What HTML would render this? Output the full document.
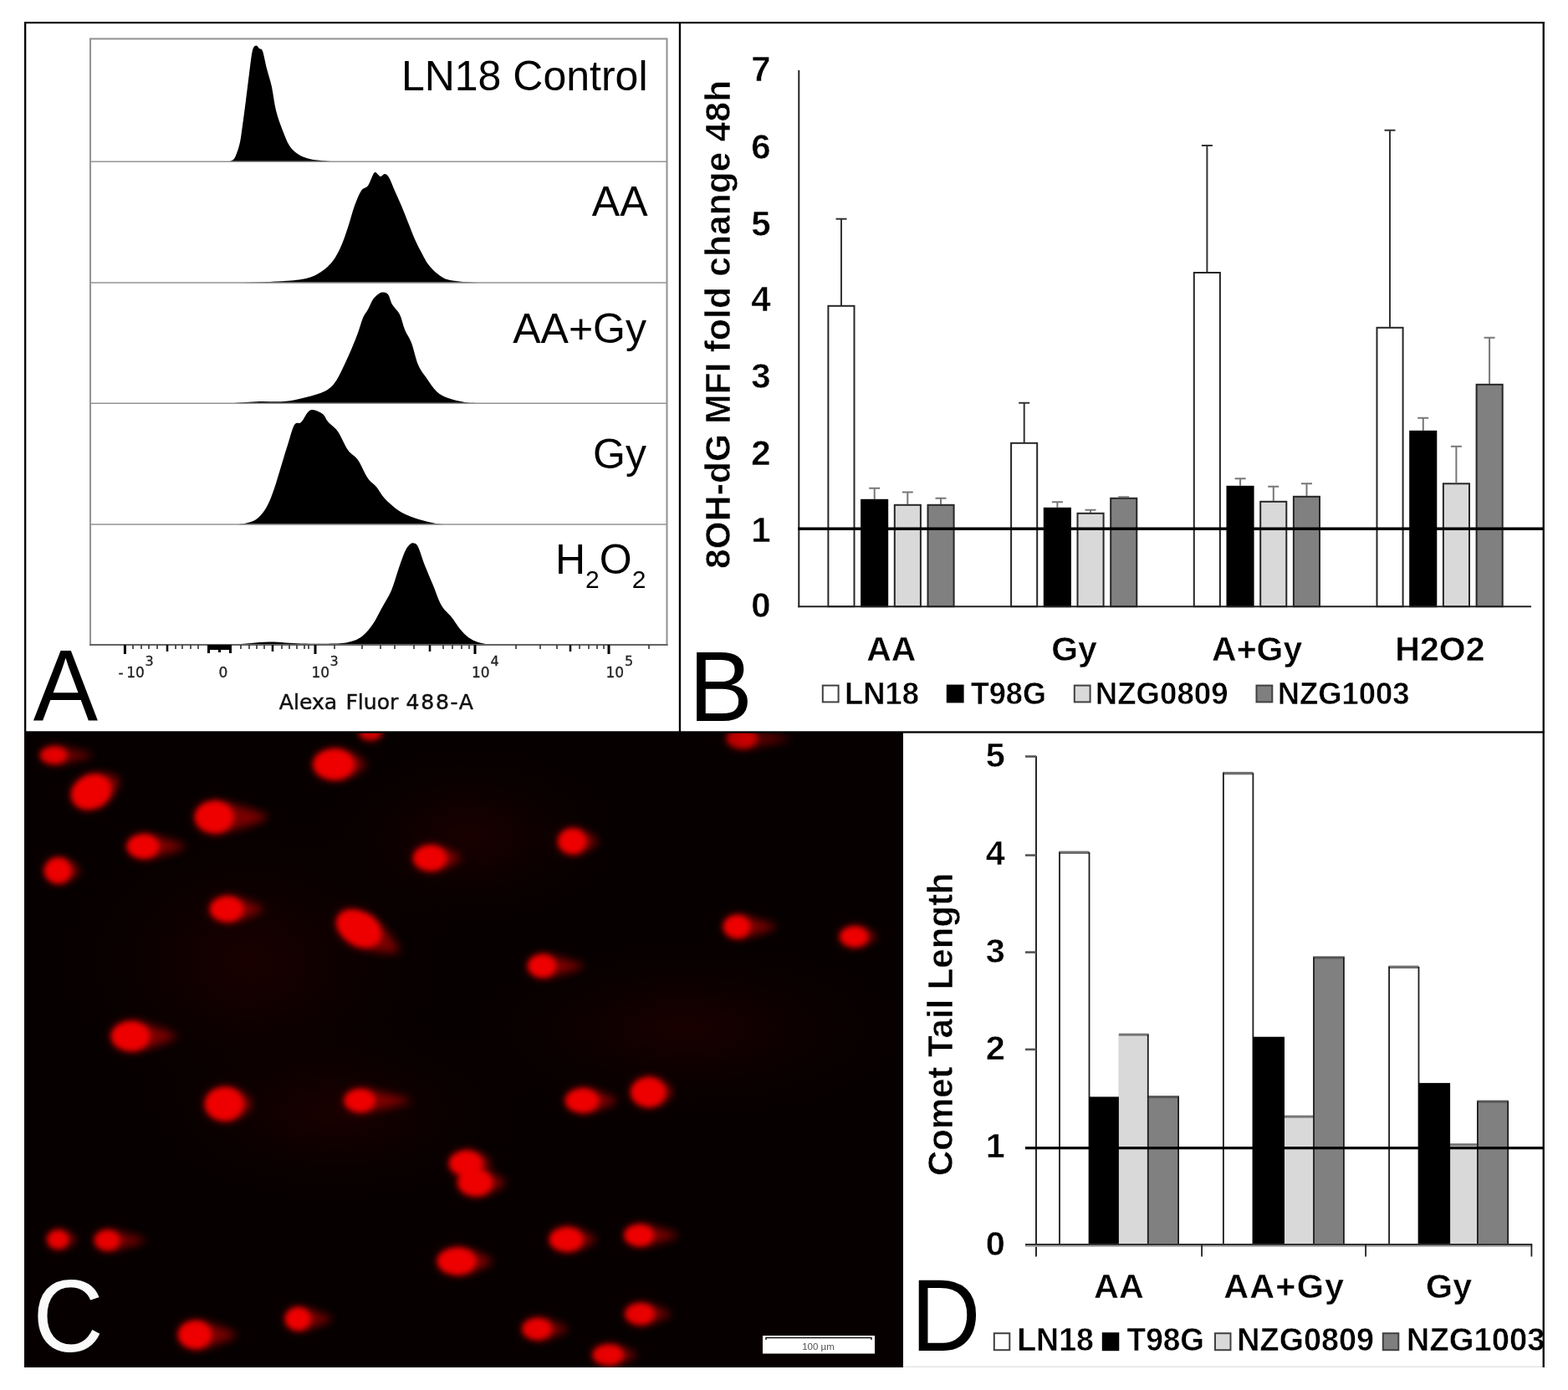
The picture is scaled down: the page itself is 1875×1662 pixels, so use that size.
<!DOCTYPE html>
<html lang="en"><head><meta charset="utf-8"><title>Figure</title>
<style>html,body{margin:0;padding:0;background:#fff;}body{width:1875px;height:1662px;overflow:hidden;}svg{display:block;}text{white-space:pre;}</style>
</head><body>
<svg width="1875" height="1662" viewBox="0 0 1875 1662">
<rect width="1875" height="1662" fill="#fff"/>
<g id="panelA">
<path d="M272.0,193.6C272.0,193.6 271.0,193.6 272.0,193.6C273.0,193.3 276.3,192.9 278.0,191.6C279.7,190.3 280.5,189.6 282.0,186.0C283.5,182.4 285.7,176.0 287.0,170.0C288.3,164.0 288.8,158.3 290.0,150.0C291.2,141.7 292.7,130.3 294.0,120.0C295.3,109.7 296.7,98.0 298.0,88.0C299.3,78.0 300.6,65.6 302.0,60.0C303.4,54.4 305.3,54.7 306.6,54.4C307.9,54.1 308.8,56.9 310.0,58.0C311.2,59.1 312.5,57.0 314.0,61.0C315.5,65.0 317.2,74.8 319.0,82.0C320.8,89.2 323.2,95.7 325.0,104.0C326.8,112.3 327.8,123.3 330.0,132.0C332.2,140.7 335.3,149.0 338.0,156.0C340.7,163.0 343.0,169.3 346.0,174.0C349.0,178.7 352.0,181.3 356.0,184.0C360.0,186.7 364.3,188.6 370.0,190.0C375.7,191.4 383.3,191.8 390.0,192.4C396.7,193.0 406.7,193.4 410.0,193.6C413.3,193.6 410.0,193.6 410.0,193.6Z" fill="#000"/>
<path d="M296.0,338.3C296.0,338.2 288.7,338.3 296.0,338.0C303.3,337.6 328.3,336.8 340.0,336.0C351.7,335.2 358.7,334.8 366.0,333.0C373.3,331.2 378.7,328.5 384.0,325.0C389.3,321.5 394.0,317.2 398.0,312.0C402.0,306.8 405.0,300.7 408.0,294.0C411.0,287.3 413.3,280.0 416.0,272.0C418.7,264.0 421.3,253.3 424.0,246.0C426.7,238.7 429.3,232.0 432.0,228.0C434.7,224.0 437.7,225.2 440.0,222.0C442.3,218.8 444.5,211.7 446.0,209.0C447.5,206.3 447.5,205.7 449.0,206.0C450.5,206.3 453.2,210.7 455.0,211.0C456.8,211.3 458.3,207.8 460.0,208.0C461.7,208.2 463.0,208.7 465.0,212.0C467.0,215.3 469.5,222.3 472.0,228.0C474.5,233.7 477.3,239.7 480.0,246.0C482.7,252.3 485.3,259.3 488.0,266.0C490.7,272.7 493.3,280.0 496.0,286.0C498.7,292.0 501.3,297.0 504.0,302.0C506.7,307.0 508.7,311.7 512.0,316.0C515.3,320.3 519.7,324.8 524.0,328.0C528.3,331.2 530.7,333.3 538.0,335.0C545.3,336.7 563.0,337.4 568.0,338.0C573.0,338.3 568.0,338.2 568.0,338.3Z" fill="#000"/>
<path d="M280.0,482.6C280.0,482.5 275.0,482.4 280.0,482.0C285.0,481.6 300.0,480.3 310.0,480.0C320.0,479.7 330.7,480.8 340.0,480.0C349.3,479.2 358.0,477.0 366.0,475.0C374.0,473.0 382.3,470.8 388.0,468.0C393.7,465.2 396.3,462.7 400.0,458.0C403.7,453.3 406.7,446.7 410.0,440.0C413.3,433.3 417.0,425.0 420.0,418.0C423.0,411.0 425.7,404.3 428.0,398.0C430.3,391.7 432.0,384.7 434.0,380.0C436.0,375.3 438.0,373.7 440.0,370.0C442.0,366.3 444.0,361.0 446.0,358.0C448.0,355.0 450.2,353.4 452.0,352.0C453.8,350.6 455.0,349.6 457.0,349.6C459.0,349.6 462.0,349.6 464.0,352.0C466.0,354.4 466.7,360.0 469.0,364.0C471.3,368.0 475.5,371.0 478.0,376.0C480.5,381.0 481.7,388.3 484.0,394.0C486.3,399.7 489.3,403.0 492.0,410.0C494.7,417.0 497.0,429.0 500.0,436.0C503.0,443.0 506.3,446.7 510.0,452.0C513.7,457.3 517.7,464.0 522.0,468.0C526.3,472.0 530.3,473.8 536.0,476.0C541.7,478.2 550.3,480.0 556.0,481.0C561.7,482.0 567.7,481.7 570.0,482.0C572.3,482.3 570.0,482.5 570.0,482.6Z" fill="#000"/>
<path d="M286.0,627.3C286.0,627.2 283.7,627.3 286.0,627.0C288.3,626.5 296.0,625.5 300.0,624.0C304.0,622.5 306.7,621.3 310.0,618.0C313.3,614.7 317.0,609.7 320.0,604.0C323.0,598.3 325.3,591.7 328.0,584.0C330.7,576.3 333.3,566.7 336.0,558.0C338.7,549.3 341.3,540.3 344.0,532.0C346.7,523.7 349.3,512.5 352.0,508.0C354.7,503.5 357.3,507.5 360.0,505.0C362.7,502.5 365.7,495.5 368.0,493.0C370.3,490.5 371.0,489.7 374.0,490.0C377.0,490.3 383.0,492.7 386.0,495.0C389.0,497.3 389.0,500.5 392.0,504.0C395.0,507.5 400.0,510.3 404.0,516.0C408.0,521.7 412.0,532.3 416.0,538.0C420.0,543.7 424.0,544.3 428.0,550.0C432.0,555.7 436.3,566.7 440.0,572.0C443.7,577.3 446.7,578.0 450.0,582.0C453.3,586.0 455.7,591.3 460.0,596.0C464.3,600.7 470.7,606.3 476.0,610.0C481.3,613.7 486.0,615.7 492.0,618.0C498.0,620.3 506.0,622.5 512.0,624.0C518.0,625.5 525.3,626.5 528.0,627.0C530.7,627.3 528.0,627.2 528.0,627.3Z" fill="#000"/>
<path d="M280.0,771.3C280.0,771.2 276.7,771.3 280.0,771.0C283.3,770.6 292.7,769.6 300.0,769.0C307.3,768.4 314.0,767.5 324.0,767.6C334.0,767.7 347.3,769.3 360.0,769.6C372.7,769.9 390.0,770.0 400.0,769.6C410.0,769.2 414.3,768.6 420.0,767.0C425.7,765.4 429.7,763.5 434.0,760.0C438.3,756.5 442.3,751.3 446.0,746.0C449.7,740.7 452.3,734.7 456.0,728.0C459.7,721.3 464.7,713.7 468.0,706.0C471.3,698.3 473.3,689.7 476.0,682.0C478.7,674.3 481.7,665.2 484.0,660.0C486.3,654.8 488.2,652.7 490.0,651.0C491.8,649.3 493.3,649.1 495.0,649.6C496.7,650.1 497.8,649.6 500.0,654.0C502.2,658.4 505.0,668.3 508.0,676.0C511.0,683.7 514.7,692.0 518.0,700.0C521.3,708.0 524.3,717.7 528.0,724.0C531.7,730.3 536.3,733.3 540.0,738.0C543.7,742.7 546.7,748.0 550.0,752.0C553.3,756.0 556.3,759.3 560.0,762.0C563.7,764.7 567.3,766.5 572.0,768.0C576.7,769.5 585.3,770.5 588.0,771.0C590.7,771.3 588.0,771.2 588.0,771.3Z" fill="#000"/>
<rect x="108.0" y="46.4" width="689.5" height="724.6" fill="none" stroke="#949494" stroke-width="2.1"/>
<line x1="108.0" y1="193.3" x2="797.5" y2="193.3" stroke="#949494" stroke-width="1.6"/>
<line x1="108.0" y1="338.0" x2="797.5" y2="338.0" stroke="#949494" stroke-width="1.6"/>
<line x1="108.0" y1="482.3" x2="797.5" y2="482.3" stroke="#949494" stroke-width="1.6"/>
<line x1="108.0" y1="627.0" x2="797.5" y2="627.0" stroke="#949494" stroke-width="1.6"/>
<line x1="107.0" y1="771.0" x2="798.5" y2="771.0" stroke="#555" stroke-width="1.6"/>
<rect x="147.9" y="771.0" width="3" height="11" fill="#000"/>
<rect x="375.5" y="771.0" width="3" height="11" fill="#000"/>
<rect x="566.5" y="771.0" width="3" height="11" fill="#000"/>
<rect x="726.5" y="771.0" width="3" height="11" fill="#000"/>
<rect x="198.7" y="771.0" width="2.6" height="8" fill="#111"/>
<rect x="324.7" y="771.0" width="2.6" height="8" fill="#111"/>
<rect x="512.7" y="771.0" width="2.6" height="8" fill="#111"/>
<rect x="680.7" y="771.0" width="2.6" height="8" fill="#111"/>
<rect x="158.2" y="771.0" width="1.6" height="5" fill="#333"/>
<rect x="168.2" y="771.0" width="1.6" height="5" fill="#333"/>
<rect x="177.2" y="771.0" width="1.6" height="5" fill="#333"/>
<rect x="187.2" y="771.0" width="1.6" height="5" fill="#333"/>
<rect x="209.2" y="771.0" width="1.6" height="5" fill="#333"/>
<rect x="217.2" y="771.0" width="1.6" height="5" fill="#333"/>
<rect x="227.2" y="771.0" width="1.6" height="5" fill="#333"/>
<rect x="236.2" y="771.0" width="1.6" height="5" fill="#333"/>
<rect x="287.2" y="771.0" width="1.6" height="5" fill="#333"/>
<rect x="297.2" y="771.0" width="1.6" height="5" fill="#333"/>
<rect x="306.2" y="771.0" width="1.6" height="5" fill="#333"/>
<rect x="315.2" y="771.0" width="1.6" height="5" fill="#333"/>
<rect x="336.2" y="771.0" width="1.6" height="5" fill="#333"/>
<rect x="345.2" y="771.0" width="1.6" height="5" fill="#333"/>
<rect x="354.2" y="771.0" width="1.6" height="5" fill="#333"/>
<rect x="363.2" y="771.0" width="1.6" height="5" fill="#333"/>
<rect x="368.2" y="771.0" width="1.6" height="5" fill="#333"/>
<rect x="471.2" y="771.0" width="1.6" height="5" fill="#333"/>
<rect x="494.2" y="771.0" width="1.6" height="5" fill="#333"/>
<rect x="529.2" y="771.0" width="1.6" height="5" fill="#333"/>
<rect x="540.2" y="771.0" width="1.6" height="5" fill="#333"/>
<rect x="551.2" y="771.0" width="1.6" height="5" fill="#333"/>
<rect x="560.2" y="771.0" width="1.6" height="5" fill="#333"/>
<rect x="616.2" y="771.0" width="1.6" height="5" fill="#333"/>
<rect x="645.2" y="771.0" width="1.6" height="5" fill="#333"/>
<rect x="665.2" y="771.0" width="1.6" height="5" fill="#333"/>
<rect x="692.2" y="771.0" width="1.6" height="5" fill="#333"/>
<rect x="703.2" y="771.0" width="1.6" height="5" fill="#333"/>
<rect x="713.2" y="771.0" width="1.6" height="5" fill="#333"/>
<rect x="721.2" y="771.0" width="1.6" height="5" fill="#333"/>
<rect x="775.2" y="771.0" width="1.6" height="5" fill="#333"/>
<rect x="399.2" y="771.0" width="1.6" height="5" fill="#333"/>
<rect x="432.2" y="771.0" width="1.6" height="5" fill="#333"/>
<rect x="454.2" y="771.0" width="1.6" height="5" fill="#333"/>
<rect x="248" y="771.0" width="29" height="6" fill="#000"/>
<rect x="248" y="771.0" width="3" height="10" fill="#000"/>
<rect x="274" y="771.0" width="3" height="10" fill="#000"/>
<rect x="261" y="771.0" width="3" height="9" fill="#000"/>
<text x="141.5" y="809.5" font-family="'DejaVu Sans', 'Liberation Sans', sans-serif" font-size="17px" fill="#222" stroke="#222" stroke-width="0.3">-<tspan dx="3.6">10</tspan></text>
<text x="173.5" y="795.5" font-family="'DejaVu Sans', 'Liberation Sans', sans-serif" font-size="16px" fill="#222" stroke="#222" stroke-width="0.3">3</text>
<text x="261.5" y="809.5" font-family="'DejaVu Sans', 'Liberation Sans', sans-serif" font-size="17px" fill="#222" stroke="#222" stroke-width="0.3">0</text>
<text x="372.5" y="809.5" font-family="'DejaVu Sans', 'Liberation Sans', sans-serif" font-size="17px" fill="#222" stroke="#222" stroke-width="0.3">10</text>
<text x="394.5" y="795.5" font-family="'DejaVu Sans', 'Liberation Sans', sans-serif" font-size="16px" fill="#222" stroke="#222" stroke-width="0.3">3</text>
<text x="564" y="809.5" font-family="'DejaVu Sans', 'Liberation Sans', sans-serif" font-size="17px" fill="#222" stroke="#222" stroke-width="0.3">10</text>
<text x="586.5" y="795.5" font-family="'DejaVu Sans', 'Liberation Sans', sans-serif" font-size="16px" fill="#222" stroke="#222" stroke-width="0.3">4</text>
<text x="724.5" y="809.5" font-family="'DejaVu Sans', 'Liberation Sans', sans-serif" font-size="17px" fill="#222" stroke="#222" stroke-width="0.3">10</text>
<text x="747" y="795.5" font-family="'DejaVu Sans', 'Liberation Sans', sans-serif" font-size="16px" fill="#222" stroke="#222" stroke-width="0.3">5</text>
<text y="848" font-family="'DejaVu Sans', 'Liberation Sans', sans-serif" font-size="25.1px" fill="#111" stroke="#111" stroke-width="0.45"><tspan x="333.8">Alexa </tspan><tspan x="413.4">Fluor </tspan><tspan x="485.5" textLength="80.5" lengthAdjust="spacing">488-A</tspan></text>
<text x="774.5" y="108.4" text-anchor="end" font-family="'Liberation Sans', Arial, Helvetica, sans-serif" font-size="50px" fill="#000">LN18 Control</text>
<text x="774.5" y="258.4" text-anchor="end" font-family="'Liberation Sans', Arial, Helvetica, sans-serif" font-size="50px" fill="#000">AA</text>
<text x="773" y="410.4" text-anchor="end" font-family="'Liberation Sans', Arial, Helvetica, sans-serif" font-size="50px" fill="#000">AA+Gy</text>
<text x="773" y="560" text-anchor="end" font-family="'Liberation Sans', Arial, Helvetica, sans-serif" font-size="50px" fill="#000">Gy</text>
<text x="664" y="686.4" font-family="'Liberation Sans', Arial, Helvetica, sans-serif" font-size="50px" fill="#000">H<tspan font-size="30px" dy="17">2</tspan><tspan dy="-17">O</tspan><tspan font-size="30px" dy="17">2</tspan></text>
<text transform="translate(39.8,861) scale(1,1.035)" font-family="'Liberation Sans', Arial, Helvetica, sans-serif" font-size="116px" fill="#000">A</text>
</g>
<g id="panelB">
<rect x="990.4" y="365.8" width="31.1" height="359.4" fill="#ffffff" stroke="#262626" stroke-width="2"/>
<path d="M1006.0,365.0V261.8M999.5,261.8H1012.5" stroke="#333" stroke-width="2" fill="none"/>
<rect x="1030.1" y="597.8" width="31.1" height="127.4" fill="#000000" stroke="#000" stroke-width="2"/>
<path d="M1045.7,597.0V583.8M1039.2,583.8H1052.2" stroke="#777" stroke-width="2" fill="none"/>
<rect x="1069.8" y="603.8" width="31.1" height="121.4" fill="#d9d9d9" stroke="#262626" stroke-width="2"/>
<path d="M1085.3,603.0V588.4M1078.8,588.4H1091.8" stroke="#777" stroke-width="2" fill="none"/>
<rect x="1109.5" y="603.8" width="31.1" height="121.4" fill="#808080" stroke="#262626" stroke-width="2"/>
<path d="M1125.0,603.0V595.8M1118.5,595.8H1131.5" stroke="#777" stroke-width="2" fill="none"/>
<rect x="1209.1" y="529.8" width="31.1" height="195.4" fill="#ffffff" stroke="#262626" stroke-width="2"/>
<path d="M1224.7,529.0V481.8M1218.2,481.8H1231.2" stroke="#333" stroke-width="2" fill="none"/>
<rect x="1248.8" y="607.8" width="31.1" height="117.4" fill="#000000" stroke="#000" stroke-width="2"/>
<path d="M1264.4,607.0V600.2M1257.9,600.2H1270.9" stroke="#777" stroke-width="2" fill="none"/>
<rect x="1288.5" y="613.8" width="31.1" height="111.4" fill="#d9d9d9" stroke="#262626" stroke-width="2"/>
<path d="M1304.0,613.0V609.8M1297.5,609.8H1310.5" stroke="#777" stroke-width="2" fill="none"/>
<rect x="1328.2" y="595.8" width="31.1" height="129.4" fill="#808080" stroke="#262626" stroke-width="2"/>
<path d="M1343.8,595.0V594.2M1337.2,594.2H1350.2" stroke="#777" stroke-width="2" fill="none"/>
<rect x="1427.8" y="326.0" width="31.1" height="399.2" fill="#ffffff" stroke="#262626" stroke-width="2"/>
<path d="M1443.4,325.2V174.0M1436.9,174.0H1449.9" stroke="#333" stroke-width="2" fill="none"/>
<rect x="1467.5" y="581.8" width="31.1" height="143.4" fill="#000000" stroke="#000" stroke-width="2"/>
<path d="M1483.1,581.0V572.2M1476.6,572.2H1489.6" stroke="#777" stroke-width="2" fill="none"/>
<rect x="1507.2" y="599.8" width="31.1" height="125.4" fill="#d9d9d9" stroke="#262626" stroke-width="2"/>
<path d="M1522.8,599.0V581.8M1516.2,581.8H1529.2" stroke="#777" stroke-width="2" fill="none"/>
<rect x="1546.9" y="593.8" width="31.1" height="131.4" fill="#808080" stroke="#262626" stroke-width="2"/>
<path d="M1562.5,593.0V578.3M1556.0,578.3H1569.0" stroke="#777" stroke-width="2" fill="none"/>
<rect x="1646.5" y="391.8" width="31.1" height="333.4" fill="#ffffff" stroke="#262626" stroke-width="2"/>
<path d="M1662.0,391.0V155.8M1655.5,155.8H1668.5" stroke="#333" stroke-width="2" fill="none"/>
<rect x="1686.2" y="515.8" width="31.1" height="209.4" fill="#000000" stroke="#000" stroke-width="2"/>
<path d="M1701.8,515.0V499.8M1695.2,499.8H1708.2" stroke="#777" stroke-width="2" fill="none"/>
<rect x="1725.9" y="578.3" width="31.1" height="146.9" fill="#d9d9d9" stroke="#262626" stroke-width="2"/>
<path d="M1741.4,577.5V533.8M1734.9,533.8H1747.9" stroke="#777" stroke-width="2" fill="none"/>
<rect x="1765.6" y="459.8" width="31.1" height="265.4" fill="#808080" stroke="#262626" stroke-width="2"/>
<path d="M1781.1,459.0V403.8M1774.6,403.8H1787.6" stroke="#777" stroke-width="2" fill="none"/>
<line x1="955.3" y1="84" x2="955.3" y2="726.2" stroke="#222" stroke-width="2"/>
<line x1="954.3" y1="725.2" x2="1831" y2="725.2" stroke="#222" stroke-width="2"/>
<line x1="954.3" y1="632.3" x2="1845" y2="632.3" stroke="#000" stroke-width="3.4"/>
<text x="910" y="738.0" text-anchor="middle" font-family="'Liberation Sans', Arial, Helvetica, sans-serif" font-weight="bold" stroke="#fff" stroke-width="0.5" font-size="42px" fill="#000">0</text>
<text x="910" y="647.5" text-anchor="middle" font-family="'Liberation Sans', Arial, Helvetica, sans-serif" font-weight="bold" stroke="#fff" stroke-width="0.5" font-size="42px" fill="#000">1</text>
<text x="910" y="555.5" text-anchor="middle" font-family="'Liberation Sans', Arial, Helvetica, sans-serif" font-weight="bold" stroke="#fff" stroke-width="0.5" font-size="42px" fill="#000">2</text>
<text x="910" y="464.4" text-anchor="middle" font-family="'Liberation Sans', Arial, Helvetica, sans-serif" font-weight="bold" stroke="#fff" stroke-width="0.5" font-size="42px" fill="#000">3</text>
<text x="910" y="372.0" text-anchor="middle" font-family="'Liberation Sans', Arial, Helvetica, sans-serif" font-weight="bold" stroke="#fff" stroke-width="0.5" font-size="42px" fill="#000">4</text>
<text x="910" y="282.4" text-anchor="middle" font-family="'Liberation Sans', Arial, Helvetica, sans-serif" font-weight="bold" stroke="#fff" stroke-width="0.5" font-size="42px" fill="#000">5</text>
<text x="910" y="189.5" text-anchor="middle" font-family="'Liberation Sans', Arial, Helvetica, sans-serif" font-weight="bold" stroke="#fff" stroke-width="0.5" font-size="42px" fill="#000">6</text>
<text x="910" y="97.1" text-anchor="middle" font-family="'Liberation Sans', Arial, Helvetica, sans-serif" font-weight="bold" stroke="#fff" stroke-width="0.5" font-size="42px" fill="#000">7</text>
<text transform="translate(873,680) rotate(-90)" font-family="'Liberation Sans', Arial, Helvetica, sans-serif" font-weight="bold" stroke="#fff" stroke-width="0.5" font-size="42.3px" fill="#000" textLength="584" lengthAdjust="spacing">8OH-dG MFI fold change 48h</text>
<text x="1065.8" y="789.6" text-anchor="middle" font-family="'Liberation Sans', Arial, Helvetica, sans-serif" font-weight="bold" stroke="#fff" stroke-width="0.5" font-size="41px" fill="#000">AA</text>
<text x="1284.5" y="789.6" text-anchor="middle" font-family="'Liberation Sans', Arial, Helvetica, sans-serif" font-weight="bold" stroke="#fff" stroke-width="0.5" font-size="41px" fill="#000">Gy</text>
<text x="1503.2" y="789.6" text-anchor="middle" font-family="'Liberation Sans', Arial, Helvetica, sans-serif" font-weight="bold" stroke="#fff" stroke-width="0.5" font-size="41px" fill="#000">A+Gy</text>
<text x="1721.9" y="789.6" text-anchor="middle" font-family="'Liberation Sans', Arial, Helvetica, sans-serif" font-weight="bold" stroke="#fff" stroke-width="0.5" font-size="41px" fill="#000">H2O2</text>
<rect x="983.8" y="819.6" width="18.8" height="19.8" fill="#fff" stroke="#404040" stroke-width="2"/>
<text x="1010.0" y="841.5" font-family="'Liberation Sans', Arial, Helvetica, sans-serif" font-weight="bold" stroke="#fff" stroke-width="0.5" font-size="37.5px" fill="#000" textLength="89.0" lengthAdjust="spacingAndGlyphs">LN18</text>
<rect x="1132.8" y="819.6" width="18.8" height="19.8" fill="#000" stroke="#000" stroke-width="2"/>
<text x="1160.7" y="841.5" font-family="'Liberation Sans', Arial, Helvetica, sans-serif" font-weight="bold" stroke="#fff" stroke-width="0.5" font-size="37.5px" fill="#000" textLength="90.3" lengthAdjust="spacingAndGlyphs">T98G</text>
<rect x="1284.8" y="819.6" width="18.8" height="19.8" fill="#d9d9d9" stroke="#404040" stroke-width="2"/>
<text x="1309.8" y="841.5" font-family="'Liberation Sans', Arial, Helvetica, sans-serif" font-weight="bold" stroke="#fff" stroke-width="0.5" font-size="37.5px" fill="#000" textLength="158.8" lengthAdjust="spacingAndGlyphs">NZG0809</text>
<rect x="1502.5" y="819.6" width="18.8" height="19.8" fill="#7f7f7f" stroke="#404040" stroke-width="2"/>
<text x="1527.7" y="841.5" font-family="'Liberation Sans', Arial, Helvetica, sans-serif" font-weight="bold" stroke="#fff" stroke-width="0.5" font-size="37.5px" fill="#000" textLength="157.8" lengthAdjust="spacingAndGlyphs">NZG1003</text>
<text transform="translate(823.8,862) scale(0.985,1.025)" font-family="'Liberation Sans', Arial, Helvetica, sans-serif" font-size="116px" fill="#000">B</text>
</g>
<g id="panelD">
<rect x="1267.0" y="1019.0" width="35.2" height="469.0" fill="#fff"/>
<rect x="1337.4" y="1237.0" width="35.4" height="251.0" fill="#d9d9d9"/>
<rect x="1372.8" y="1311.5" width="36.3" height="176.5" fill="#808080"/>
<rect x="1266.1" y="1017.6" width="36.4" height="3.4" fill="#6e6e6e"/>
<rect x="1337.9" y="1235.6" width="35.8" height="3.0" fill="#767676"/>
<rect x="1371.9" y="1310.1" width="38.1" height="3.0" fill="#555"/>
<rect x="1266.1" y="1019.0" width="1.8" height="469.0" fill="#1c1c1c"/>
<rect x="1301.6" y="1019.0" width="1.8" height="469.0" fill="#1c1c1c"/>
<rect x="1371.9" y="1237.0" width="1.8" height="251.0" fill="#1c1c1c"/>
<rect x="1408.2" y="1311.5" width="1.8" height="176.5" fill="#1c1c1c"/>
<rect x="1302.2" y="1311.4" width="35.7" height="176.6" fill="#000"/>
<rect x="1462.9" y="924.3" width="35.2" height="563.7" fill="#fff"/>
<rect x="1535.5" y="1335.0" width="35.5" height="153.0" fill="#d9d9d9"/>
<rect x="1571.0" y="1144.8" width="35.9" height="343.2" fill="#808080"/>
<rect x="1462.0" y="922.9" width="36.4" height="3.4" fill="#6e6e6e"/>
<rect x="1536.0" y="1333.6" width="35.9" height="3.0" fill="#767676"/>
<rect x="1570.1" y="1143.4" width="37.7" height="3.0" fill="#555"/>
<rect x="1462.0" y="924.3" width="1.8" height="563.7" fill="#1c1c1c"/>
<rect x="1497.5" y="924.3" width="1.8" height="563.7" fill="#1c1c1c"/>
<rect x="1570.1" y="1144.8" width="1.8" height="343.2" fill="#1c1c1c"/>
<rect x="1606.0" y="1144.8" width="1.8" height="343.2" fill="#1c1c1c"/>
<rect x="1498.1" y="1239.7" width="37.9" height="248.3" fill="#000"/>
<rect x="1661.1" y="1156.0" width="35.1" height="332.0" fill="#fff"/>
<rect x="1733.6" y="1368.6" width="33.3" height="119.4" fill="#d9d9d9"/>
<rect x="1766.9" y="1317.0" width="36.3" height="171.0" fill="#808080"/>
<rect x="1660.2" y="1154.6" width="36.3" height="3.4" fill="#6e6e6e"/>
<rect x="1734.1" y="1367.2" width="33.7" height="3.0" fill="#767676"/>
<rect x="1766.0" y="1315.6" width="38.1" height="3.0" fill="#555"/>
<rect x="1660.2" y="1156.0" width="1.8" height="332.0" fill="#1c1c1c"/>
<rect x="1695.6" y="1156.0" width="1.8" height="332.0" fill="#1c1c1c"/>
<rect x="1766.0" y="1317.0" width="1.8" height="171.0" fill="#1c1c1c"/>
<rect x="1802.3" y="1317.0" width="1.8" height="171.0" fill="#1c1c1c"/>
<rect x="1696.2" y="1294.9" width="37.9" height="193.1" fill="#000"/>
<line x1="1239.0" y1="904" x2="1239.0" y2="1502.5" stroke="#111" stroke-width="1.8"/>
<rect x="1226" y="1489" width="606.3" height="1.9" fill="#a8a8a8"/>
<line x1="1226" y1="1488.0" x2="1832.3" y2="1488.0" stroke="#333" stroke-width="2"/>
<line x1="1437.1" y1="1488.0" x2="1437.1" y2="1502.5" stroke="#222" stroke-width="1.8"/>
<line x1="1633.1" y1="1488.0" x2="1633.1" y2="1502.5" stroke="#222" stroke-width="1.8"/>
<line x1="1831.4" y1="1488.0" x2="1831.4" y2="1502.5" stroke="#222" stroke-width="1.8"/>
<line x1="1226" y1="1254.8" x2="1239.0" y2="1254.8" stroke="#555" stroke-width="2.6"/>
<line x1="1226" y1="1138.6" x2="1239.0" y2="1138.6" stroke="#555" stroke-width="2.6"/>
<line x1="1226" y1="1022.6" x2="1239.0" y2="1022.6" stroke="#555" stroke-width="2.6"/>
<line x1="1226" y1="904.5" x2="1239.0" y2="904.5" stroke="#555" stroke-width="2.6"/>
<line x1="1226" y1="1372.6" x2="1845" y2="1372.6" stroke="#000" stroke-width="3.4"/>
<text x="1190.3" y="1500.8" text-anchor="middle" font-family="'Liberation Sans', Arial, Helvetica, sans-serif" font-weight="bold" stroke="#fff" stroke-width="0.5" font-size="41.5px" fill="#000">0</text>
<text x="1190.3" y="1384.0" text-anchor="middle" font-family="'Liberation Sans', Arial, Helvetica, sans-serif" font-weight="bold" stroke="#fff" stroke-width="0.5" font-size="41.5px" fill="#000">1</text>
<text x="1190.3" y="1267.3" text-anchor="middle" font-family="'Liberation Sans', Arial, Helvetica, sans-serif" font-weight="bold" stroke="#fff" stroke-width="0.5" font-size="41.5px" fill="#000">2</text>
<text x="1190.3" y="1150.5" text-anchor="middle" font-family="'Liberation Sans', Arial, Helvetica, sans-serif" font-weight="bold" stroke="#fff" stroke-width="0.5" font-size="41.5px" fill="#000">3</text>
<text x="1190.3" y="1033.8" text-anchor="middle" font-family="'Liberation Sans', Arial, Helvetica, sans-serif" font-weight="bold" stroke="#fff" stroke-width="0.5" font-size="41.5px" fill="#000">4</text>
<text x="1190.3" y="917.0" text-anchor="middle" font-family="'Liberation Sans', Arial, Helvetica, sans-serif" font-weight="bold" stroke="#fff" stroke-width="0.5" font-size="41.5px" fill="#000">5</text>
<text transform="translate(1139,1406) rotate(-90)" font-family="'Liberation Sans', Arial, Helvetica, sans-serif" font-weight="bold" stroke="#fff" stroke-width="0.5" font-size="42px" fill="#000" textLength="362.5" lengthAdjust="spacing">Comet Tail Length</text>
<text x="1337.9" y="1552" text-anchor="middle" font-family="'Liberation Sans', Arial, Helvetica, sans-serif" font-weight="bold" stroke="#fff" stroke-width="0.5" font-size="41.3px" fill="#000">AA</text>
<text x="1463.2" y="1552" font-family="'Liberation Sans', Arial, Helvetica, sans-serif" font-weight="bold" stroke="#fff" stroke-width="0.5" font-size="41.5px" fill="#000" textLength="144.0" lengthAdjust="spacing">AA+Gy</text>
<text x="1732.6" y="1552" text-anchor="middle" font-family="'Liberation Sans', Arial, Helvetica, sans-serif" font-weight="bold" stroke="#fff" stroke-width="0.5" font-size="41.3px" fill="#000">Gy</text>
<rect x="1188.8" y="1594.2" width="18.5" height="20" fill="#fff" stroke="#404040" stroke-width="2"/>
<text x="1216.2" y="1615.3" font-family="'Liberation Sans', Arial, Helvetica, sans-serif" font-weight="bold" stroke="#fff" stroke-width="0.5" font-size="38px" fill="#000" textLength="91.7" lengthAdjust="spacingAndGlyphs">LN18</text>
<rect x="1318.8" y="1594.2" width="18.5" height="20" fill="#000" stroke="#000" stroke-width="2"/>
<text x="1347.5" y="1615.3" font-family="'Liberation Sans', Arial, Helvetica, sans-serif" font-weight="bold" stroke="#fff" stroke-width="0.5" font-size="38px" fill="#000" textLength="92.7" lengthAdjust="spacingAndGlyphs">T98G</text>
<rect x="1453.0" y="1594.2" width="18.5" height="20" fill="#d9d9d9" stroke="#404040" stroke-width="2"/>
<text x="1479.3" y="1615.3" font-family="'Liberation Sans', Arial, Helvetica, sans-serif" font-weight="bold" stroke="#fff" stroke-width="0.5" font-size="38px" fill="#000" textLength="163.7" lengthAdjust="spacingAndGlyphs">NZG0809</text>
<rect x="1653.8" y="1594.2" width="18.5" height="20" fill="#7f7f7f" stroke="#404040" stroke-width="2"/>
<text x="1681.8" y="1615.3" font-family="'Liberation Sans', Arial, Helvetica, sans-serif" font-weight="bold" stroke="#fff" stroke-width="0.5" font-size="38px" fill="#000" textLength="165.7" lengthAdjust="spacingAndGlyphs">NZG1003</text>
<text transform="translate(1089.3,1615.2) scale(0.995,1.052)" font-family="'Liberation Sans', Arial, Helvetica, sans-serif" font-size="116px" fill="#000">D</text>
</g>
<g id="panelC">
<defs>
<radialGradient id="bgg" cx="50%" cy="50%" r="50%"><stop offset="0" stop-color="#1c0000" stop-opacity="0.9"/><stop offset="1" stop-color="#0a0000" stop-opacity="0"/></radialGradient>
<clipPath id="cc"><rect x="29" y="875" width="1051" height="760"/></clipPath>
<filter id="b3" x="-30%" y="-30%" width="160%" height="160%"><feGaussianBlur stdDeviation="3.2"/></filter>
<filter id="b5" x="-30%" y="-40%" width="160%" height="180%"><feGaussianBlur stdDeviation="5.5"/></filter>
<filter id="b8" x="-50%" y="-50%" width="200%" height="200%"><feGaussianBlur stdDeviation="7"/></filter>
</defs>
<rect x="29" y="875" width="1051" height="760" fill="#060000"/>
<g clip-path="url(#cc)">
<ellipse cx="300" cy="1150" rx="260" ry="200" fill="url(#bgg)"/>
<ellipse cx="820" cy="1230" rx="300" ry="120" fill="url(#bgg)"/>
<ellipse cx="560" cy="1000" rx="200" ry="120" fill="url(#bgg)"/>
<ellipse cx="400" cy="1330" rx="250" ry="120" fill="url(#bgg)"/>
<g filter="url(#b8)" opacity="0.45"><ellipse cx="64.0" cy="903.0" rx="15.8" ry="10.3" fill="#ee0000" fill-opacity="0.92"/><ellipse transform="rotate(-25 109.0 947.0)" cx="109.0" cy="947.0" rx="24.5" ry="19.8" fill="#ee0000" fill-opacity="1.00"/><ellipse cx="256.0" cy="977.0" rx="22.9" ry="19.0" fill="#ee0000" fill-opacity="1.00"/><ellipse cx="399.0" cy="914.0" rx="24.5" ry="18.2" fill="#ee0000" fill-opacity="1.00"/><ellipse cx="443.0" cy="877.0" rx="13.4" ry="7.9" fill="#ee0000" fill-opacity="0.85"/><ellipse cx="171.0" cy="1012.0" rx="19.0" ry="14.2" fill="#ee0000" fill-opacity="1.00"/><ellipse cx="69.0" cy="1041.0" rx="15.8" ry="15.0" fill="#ee0000" fill-opacity="1.00"/><ellipse cx="514.0" cy="1026.0" rx="19.8" ry="15.0" fill="#ee0000" fill-opacity="1.00"/><ellipse cx="271.0" cy="1087.0" rx="19.8" ry="15.0" fill="#ee0000" fill-opacity="1.00"/><ellipse transform="rotate(30 429.0 1110.0)" cx="429.0" cy="1110.0" rx="28.4" ry="19.8" fill="#ee0000" fill-opacity="1.00"/><ellipse cx="156.0" cy="1239.0" rx="22.9" ry="17.4" fill="#ee0000" fill-opacity="1.00"/><ellipse cx="887.0" cy="883.0" rx="18.2" ry="11.9" fill="#ee0000" fill-opacity="0.70"/><ellipse cx="684.0" cy="1006.0" rx="16.6" ry="15.0" fill="#ee0000" fill-opacity="1.00"/><ellipse cx="881.0" cy="1108.0" rx="15.8" ry="13.4" fill="#ee0000" fill-opacity="1.00"/><ellipse cx="1021.0" cy="1120.0" rx="16.6" ry="11.9" fill="#ee0000" fill-opacity="1.00"/><ellipse cx="648.0" cy="1155.0" rx="16.6" ry="13.4" fill="#ee0000" fill-opacity="1.00"/><ellipse cx="268.0" cy="1320.0" rx="22.9" ry="19.8" fill="#ee0000" fill-opacity="1.00"/><ellipse cx="430.0" cy="1316.0" rx="18.2" ry="13.4" fill="#ee0000" fill-opacity="1.00"/><ellipse cx="69.0" cy="1482.0" rx="12.6" ry="11.1" fill="#ee0000" fill-opacity="0.95"/><ellipse cx="128.0" cy="1483.0" rx="15.0" ry="11.9" fill="#ee0000" fill-opacity="0.95"/><ellipse cx="233.0" cy="1596.0" rx="19.8" ry="16.6" fill="#ee0000" fill-opacity="1.00"/><ellipse cx="356.0" cy="1577.0" rx="15.0" ry="13.4" fill="#ee0000" fill-opacity="1.00"/><ellipse cx="696.0" cy="1316.0" rx="19.8" ry="14.2" fill="#ee0000" fill-opacity="1.00"/><ellipse cx="775.0" cy="1306.0" rx="20.5" ry="17.4" fill="#ee0000" fill-opacity="1.00"/><ellipse cx="557.0" cy="1391.0" rx="19.8" ry="15.0" fill="#ee0000" fill-opacity="1.00"/><ellipse cx="568.0" cy="1414.0" rx="20.5" ry="15.8" fill="#ee0000" fill-opacity="1.00"/><ellipse cx="677.0" cy="1482.0" rx="19.8" ry="14.2" fill="#ee0000" fill-opacity="1.00"/><ellipse cx="764.0" cy="1477.0" rx="17.4" ry="12.6" fill="#ee0000" fill-opacity="1.00"/><ellipse cx="546.0" cy="1508.0" rx="22.9" ry="15.8" fill="#ee0000" fill-opacity="1.00"/><ellipse cx="765.0" cy="1571.0" rx="17.4" ry="12.6" fill="#ee0000" fill-opacity="0.95"/><ellipse cx="642.0" cy="1589.0" rx="17.4" ry="12.6" fill="#ee0000" fill-opacity="0.95"/><ellipse cx="727.0" cy="1620.0" rx="18.2" ry="11.9" fill="#ee0000" fill-opacity="0.95"/></g>
<g filter="url(#b5)"><path d="M64.0,893.2Q91.8,894.8 112.8,903.0Q91.8,911.2 64.0,912.8Z" fill="#c00000" fill-opacity="0.57"/><path transform="rotate(-25 109.0 947.0)" d="M109.0,928.2Q137.5,931.2 146.5,947.0Q137.5,962.8 109.0,965.8Z" fill="#c00000" fill-opacity="0.62"/><path d="M256.0,959.0Q294.9,961.8 321.9,977.0Q294.9,992.2 256.0,995.0Z" fill="#c00000" fill-opacity="0.62"/><path d="M399.0,896.7Q428.3,899.5 438.5,914.0Q428.3,928.5 399.0,931.3Z" fill="#c00000" fill-opacity="0.62"/><path d="M171.0,998.5Q202.0,1000.6 223.0,1012.0Q202.0,1023.4 171.0,1025.5Z" fill="#c00000" fill-opacity="0.62"/><path d="M69.0,1026.7Q88.0,1029.0 95.8,1041.0Q88.0,1053.0 69.0,1055.3Z" fill="#c00000" fill-opacity="0.62"/><path d="M514.0,1011.7Q539.8,1014.0 551.8,1026.0Q539.8,1038.0 514.0,1040.3Z" fill="#c00000" fill-opacity="0.62"/><path d="M271.0,1072.7Q299.6,1075.0 315.8,1087.0Q299.6,1099.0 271.0,1101.3Z" fill="#c00000" fill-opacity="0.62"/><path transform="rotate(30 429.0 1110.0)" d="M429.0,1091.2Q467.4,1094.2 485.4,1110.0Q467.4,1125.8 429.0,1128.8Z" fill="#c00000" fill-opacity="0.62"/><path d="M156.0,1222.5Q190.9,1225.1 211.9,1239.0Q190.9,1252.9 156.0,1255.5Z" fill="#c00000" fill-opacity="0.62"/><path d="M887.0,871.7Q920.4,873.5 946.2,883.0Q920.4,892.5 887.0,894.3Z" fill="#c00000" fill-opacity="0.43"/><path d="M684.0,991.7Q705.4,994.0 715.6,1006.0Q705.4,1018.0 684.0,1020.3Z" fill="#c00000" fill-opacity="0.62"/><path d="M881.0,1095.2Q908.8,1097.3 929.8,1108.0Q908.8,1118.7 881.0,1120.8Z" fill="#c00000" fill-opacity="0.62"/><path d="M1021.0,1108.7Q1040.8,1110.5 1048.6,1120.0Q1040.8,1129.5 1021.0,1131.3Z" fill="#c00000" fill-opacity="0.62"/><path d="M648.0,1142.2Q677.4,1144.3 699.6,1155.0Q677.4,1165.7 648.0,1167.8Z" fill="#c00000" fill-opacity="0.62"/><path d="M268.0,1301.2Q294.1,1304.2 301.9,1320.0Q294.1,1335.8 268.0,1338.8Z" fill="#c00000" fill-opacity="0.62"/><path d="M430.0,1303.2Q465.0,1305.3 493.2,1316.0Q465.0,1326.7 430.0,1328.8Z" fill="#c00000" fill-opacity="0.62"/><path d="M69.0,1471.5Q84.8,1473.2 92.6,1482.0Q84.8,1490.8 69.0,1492.5Z" fill="#c00000" fill-opacity="0.59"/><path d="M128.0,1471.7Q155.0,1473.5 176.0,1483.0Q155.0,1492.5 128.0,1494.3Z" fill="#c00000" fill-opacity="0.59"/><path d="M233.0,1580.2Q263.9,1582.7 283.8,1596.0Q263.9,1609.3 233.0,1611.8Z" fill="#c00000" fill-opacity="0.62"/><path d="M356.0,1564.2Q380.6,1566.3 398.0,1577.0Q380.6,1587.7 356.0,1589.8Z" fill="#c00000" fill-opacity="0.62"/><path d="M696.0,1302.5Q723.8,1304.6 738.8,1316.0Q723.8,1327.4 696.0,1329.5Z" fill="#c00000" fill-opacity="0.62"/><path d="M775.0,1289.5Q797.9,1292.1 804.5,1306.0Q797.9,1319.9 775.0,1322.5Z" fill="#c00000" fill-opacity="0.62"/><path d="M557.0,1376.7Q580.0,1379.0 587.8,1391.0Q580.0,1403.0 557.0,1405.3Z" fill="#c00000" fill-opacity="0.62"/><path d="M568.0,1399.0Q594.1,1401.4 605.5,1414.0Q594.1,1426.6 568.0,1429.0Z" fill="#c00000" fill-opacity="0.62"/><path d="M677.0,1468.5Q702.4,1470.6 713.8,1482.0Q702.4,1493.4 677.0,1495.5Z" fill="#c00000" fill-opacity="0.62"/><path d="M764.0,1465.0Q792.6,1466.9 812.4,1477.0Q792.6,1487.1 764.0,1489.0Z" fill="#c00000" fill-opacity="0.62"/><path d="M546.0,1493.0Q576.1,1495.4 589.9,1508.0Q576.1,1520.6 546.0,1523.0Z" fill="#c00000" fill-opacity="0.62"/><path d="M765.0,1559.0Q789.6,1560.9 803.4,1571.0Q789.6,1581.1 765.0,1583.0Z" fill="#c00000" fill-opacity="0.59"/><path d="M642.0,1577.0Q666.6,1578.9 680.4,1589.0Q666.6,1599.1 642.0,1601.0Z" fill="#c00000" fill-opacity="0.59"/><path d="M727.0,1608.7Q750.8,1610.5 762.2,1620.0Q750.8,1629.5 727.0,1631.3Z" fill="#c00000" fill-opacity="0.59"/></g>
<g filter="url(#b3)"><ellipse cx="64.0" cy="903.0" rx="15.8" ry="10.3" fill="#ee0000" fill-opacity="0.92"/><ellipse transform="rotate(-25 109.0 947.0)" cx="109.0" cy="947.0" rx="24.5" ry="19.8" fill="#ee0000" fill-opacity="1.00"/><ellipse cx="256.0" cy="977.0" rx="22.9" ry="19.0" fill="#ee0000" fill-opacity="1.00"/><ellipse cx="399.0" cy="914.0" rx="24.5" ry="18.2" fill="#ee0000" fill-opacity="1.00"/><ellipse cx="443.0" cy="877.0" rx="13.4" ry="7.9" fill="#ee0000" fill-opacity="0.85"/><ellipse cx="171.0" cy="1012.0" rx="19.0" ry="14.2" fill="#ee0000" fill-opacity="1.00"/><ellipse cx="69.0" cy="1041.0" rx="15.8" ry="15.0" fill="#ee0000" fill-opacity="1.00"/><ellipse cx="514.0" cy="1026.0" rx="19.8" ry="15.0" fill="#ee0000" fill-opacity="1.00"/><ellipse cx="271.0" cy="1087.0" rx="19.8" ry="15.0" fill="#ee0000" fill-opacity="1.00"/><ellipse transform="rotate(30 429.0 1110.0)" cx="429.0" cy="1110.0" rx="28.4" ry="19.8" fill="#ee0000" fill-opacity="1.00"/><ellipse cx="156.0" cy="1239.0" rx="22.9" ry="17.4" fill="#ee0000" fill-opacity="1.00"/><ellipse cx="887.0" cy="883.0" rx="18.2" ry="11.9" fill="#ee0000" fill-opacity="0.70"/><ellipse cx="684.0" cy="1006.0" rx="16.6" ry="15.0" fill="#ee0000" fill-opacity="1.00"/><ellipse cx="881.0" cy="1108.0" rx="15.8" ry="13.4" fill="#ee0000" fill-opacity="1.00"/><ellipse cx="1021.0" cy="1120.0" rx="16.6" ry="11.9" fill="#ee0000" fill-opacity="1.00"/><ellipse cx="648.0" cy="1155.0" rx="16.6" ry="13.4" fill="#ee0000" fill-opacity="1.00"/><ellipse cx="268.0" cy="1320.0" rx="22.9" ry="19.8" fill="#ee0000" fill-opacity="1.00"/><ellipse cx="430.0" cy="1316.0" rx="18.2" ry="13.4" fill="#ee0000" fill-opacity="1.00"/><ellipse cx="69.0" cy="1482.0" rx="12.6" ry="11.1" fill="#ee0000" fill-opacity="0.95"/><ellipse cx="128.0" cy="1483.0" rx="15.0" ry="11.9" fill="#ee0000" fill-opacity="0.95"/><ellipse cx="233.0" cy="1596.0" rx="19.8" ry="16.6" fill="#ee0000" fill-opacity="1.00"/><ellipse cx="356.0" cy="1577.0" rx="15.0" ry="13.4" fill="#ee0000" fill-opacity="1.00"/><ellipse cx="696.0" cy="1316.0" rx="19.8" ry="14.2" fill="#ee0000" fill-opacity="1.00"/><ellipse cx="775.0" cy="1306.0" rx="20.5" ry="17.4" fill="#ee0000" fill-opacity="1.00"/><ellipse cx="557.0" cy="1391.0" rx="19.8" ry="15.0" fill="#ee0000" fill-opacity="1.00"/><ellipse cx="568.0" cy="1414.0" rx="20.5" ry="15.8" fill="#ee0000" fill-opacity="1.00"/><ellipse cx="677.0" cy="1482.0" rx="19.8" ry="14.2" fill="#ee0000" fill-opacity="1.00"/><ellipse cx="764.0" cy="1477.0" rx="17.4" ry="12.6" fill="#ee0000" fill-opacity="1.00"/><ellipse cx="546.0" cy="1508.0" rx="22.9" ry="15.8" fill="#ee0000" fill-opacity="1.00"/><ellipse cx="765.0" cy="1571.0" rx="17.4" ry="12.6" fill="#ee0000" fill-opacity="0.95"/><ellipse cx="642.0" cy="1589.0" rx="17.4" ry="12.6" fill="#ee0000" fill-opacity="0.95"/><ellipse cx="727.0" cy="1620.0" rx="18.2" ry="11.9" fill="#ee0000" fill-opacity="0.95"/></g>
</g>
<rect x="912" y="1597" width="134" height="21.5" fill="#fff"/>
<path d="M916,1602V1599.5H1042V1602" fill="none" stroke="#111" stroke-width="1.4"/>
<text x="978.5" y="1613.5" text-anchor="middle" font-family="'Liberation Sans', Arial, Helvetica, sans-serif" font-size="11.5px" fill="#555">100 µm</text>
<text transform="translate(39.6,1616) scale(1.005,1.062)" font-family="'Liberation Sans', Arial, Helvetica, sans-serif" font-size="116px" fill="#fafafa">C</text>
</g>
<g id="frame">
<rect x="1080" y="1633.5" width="765" height="1.5" fill="#e4e4e4"/>
<rect x="29" y="26" width="1818" height="2.2" fill="#000"/>
<rect x="29" y="26" width="2.3" height="850.5" fill="#000"/>
<rect x="1844.6" y="26" width="2.3" height="1609" fill="#000"/>
<rect x="811.8" y="26" width="2.3" height="850.5" fill="#000"/>
<rect x="29" y="874.3" width="1818" height="2.3" fill="#000"/>
</g>
</svg>
</body></html>
